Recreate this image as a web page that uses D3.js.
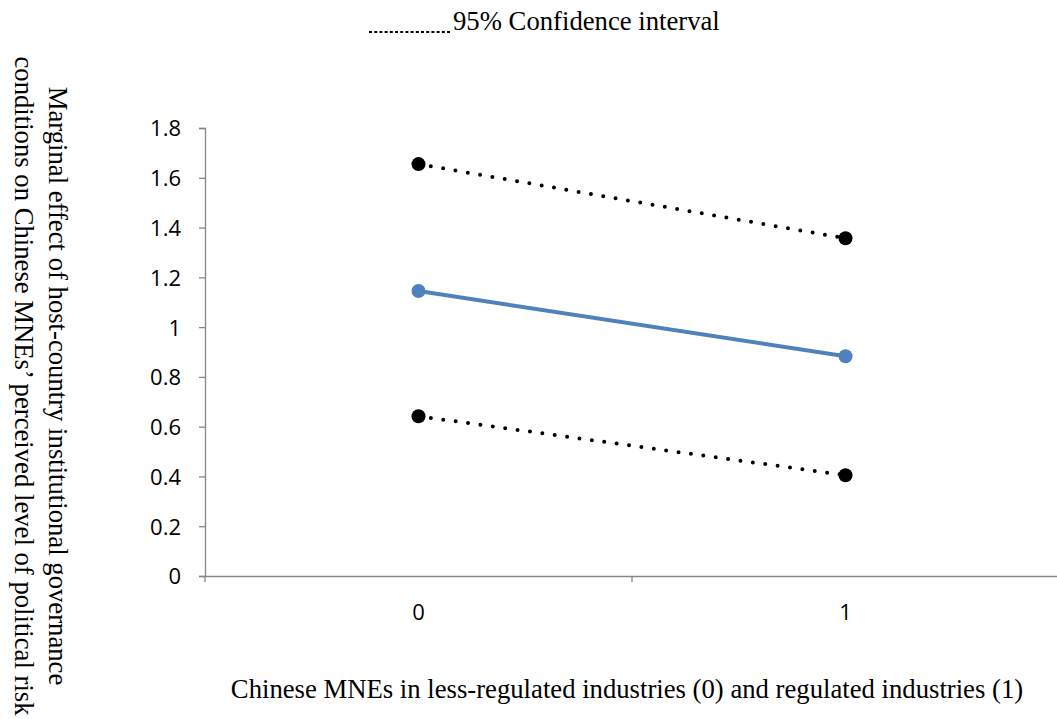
<!DOCTYPE html>
<html>
<head>
<meta charset="utf-8">
<script src="https://cdn.jsdelivr.net/npm/d3@7"></script>
<style>
  body { margin: 0; background: #fff; }
  svg { display: block; }
  .serif { font-family: "Liberation Serif", "Times New Roman", serif; font-size: 26.7px; fill: #000; }
</style>
</head>
<body>
<svg></svg>
<script>
const categories = ['0', '1'];
const estimate = [1.145, 0.883];
const upperCI = [1.655, 1.357];
const lowerCI = [0.642, 0.405];
const yTicks = [0, 0.2, 0.4, 0.6, 0.8, 1, 1.2, 1.4, 1.6, 1.8];

const W = 1057, H = 719;
const plotLeft = 205, plotRight = 1059, plotTop = 128, plotBottom = 576;

const svg = d3.select('svg')
              .attr('width', W)
              .attr('height', H);

const xScale = d3.scaleBand()
                 .range([plotLeft, plotRight])
                 .domain(categories);

const yScale = d3.scaleLinear()
                 .range([plotBottom, plotTop])
                 .domain([0, 1.8]);

const axisColor = '#868686';
const tickFont = '"Open Sans", "Noto Sans", sans-serif';

// y axis
const yAxis = svg.append('g')
   .attr('transform', `translate(${plotLeft},0)`)
   .call(d3.axisLeft(yScale).tickValues(yTicks).tickSize(6).tickPadding(18)
           .tickFormat(d => String(+d.toFixed(1))));
yAxis.selectAll('line').attr('stroke', axisColor).attr('stroke-width', 1.3);
yAxis.select('.domain').attr('stroke', axisColor).attr('stroke-width', 1.3);
yAxis.selectAll('text')
     .attr('dy', '0.36em')
     .style('font-family', tickFont)
     .style('font-size', '22px')
     .style('fill', '#000');

// x axis
const xAxis = svg.append('g')
   .attr('transform', `translate(0,${plotBottom})`)
   .call(d3.axisBottom(xScale).tickSize(0).tickPadding(28));
xAxis.select('.domain').attr('stroke', axisColor).attr('stroke-width', 1.3);
xAxis.selectAll('text')
     .attr('dy', '0.71em')
     .style('font-family', tickFont)
     .style('font-size', '22px')
     .style('fill', '#000');
// band boundary ticks
const bounds = [plotLeft, plotLeft + xScale.bandwidth(), plotRight - 1];
xAxis.selectAll('.bt')
     .data(bounds)
     .enter()
     .append('line')
     .attr('x1', d => d).attr('x2', d => d)
     .attr('y1', 0).attr('y2', 6)
     .attr('stroke', axisColor).attr('stroke-width', 1.3);

const cx = i => xScale(categories[i]) + xScale.bandwidth() / 2;

const line = d3.line()
               .x((d, i) => cx(i))
               .y(d => yScale(d));

// CI dotted lines
[upperCI, lowerCI].forEach(series => {
  svg.append('path')
     .datum(series)
     .attr('d', line)
     .attr('fill', 'none')
     .attr('stroke', '#000')
     .attr('stroke-width', 4)
     .attr('stroke-linecap', 'round')
     .attr('stroke-dasharray', '0,12.5');
  svg.selectAll(null)
     .data(series)
     .enter()
     .append('circle')
     .attr('cx', (d, i) => cx(i))
     .attr('cy', d => yScale(d))
     .attr('r', 7)
     .attr('fill', '#000');
});

// estimate line
svg.append('path')
   .datum(estimate)
   .attr('d', line)
   .attr('fill', 'none')
   .attr('stroke', '#4F81BD')
   .attr('stroke-width', 4);
svg.selectAll(null)
   .data(estimate)
   .enter()
   .append('circle')
   .attr('cx', (d, i) => cx(i))
   .attr('cy', d => yScale(d))
   .attr('r', 7)
   .attr('fill', '#4F81BD');

// legend
svg.append('line')
   .attr('x1', 369).attr('x2', 452)
   .attr('y1', 32).attr('y2', 32)
   .attr('stroke', '#000')
   .attr('stroke-width', 2)
   .attr('stroke-dasharray', '3,2.2');
svg.append('text')
   .attr('class', 'serif')
   .attr('x', 453)
   .attr('y', 30)
   .text('95% Confidence interval');

// y title
const yTitle = svg.append('text')
   .attr('class', 'serif')
   .attr('text-anchor', 'middle')
   .attr('transform', 'translate(49,386) rotate(90)');
yTitle.append('tspan').attr('x', 0).attr('y', 0)
      .text('Marginal effect of host-country institutional governance');
yTitle.append('tspan').attr('x', 0).attr('y', 34)
      .text('conditions on Chinese MNEs\u2019 perceived level of political risk');

// x title
svg.append('text')
   .attr('class', 'serif')
   .attr('text-anchor', 'middle')
   .attr('x', 627)
   .attr('y', 698)
   .text('Chinese MNEs in less-regulated industries (0) and regulated industries (1)');
</script>
</body>
</html>
